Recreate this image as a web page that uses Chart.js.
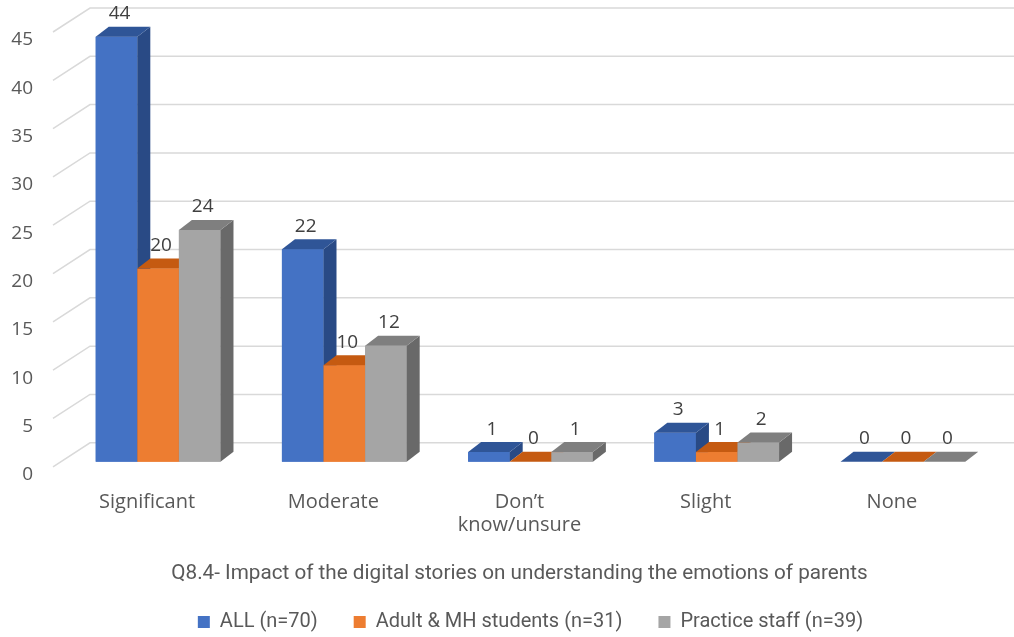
<!DOCTYPE html>
<html>
<head>
<meta charset="utf-8">
<script src="https://cdn.jsdelivr.net/npm/chart.js@4.4.1/dist/chart.umd.min.js"></script>
<style>
  html, body { margin: 0; padding: 0; background: #ffffff; }
  #wrap { width: 1014px; height: 637px; position: relative; }
</style>
</head>
<body>
<div id="wrap"><canvas id="chart" width="1014" height="637"></canvas></div>
<script>
// Response categories and counts per respondent group
const categories = ['Significant', 'Moderate', ['Don\u2019t', 'know/unsure'], 'Slight', 'None'];
const allValues = [44, 22, 1, 3, 0];
const adultMhValues = [20, 10, 0, 1, 0];
const practiceStaffValues = [24, 12, 1, 2, 0];
const seriesNames = ['ALL (n=70)', 'Adult & MH students (n=31)', 'Practice staff (n=39)'];
const yTickValues = [0, 5, 10, 15, 20, 25, 30, 35, 40, 45];
const chartTitle = 'Q8.4- Impact of the digital stories on understanding the emotions of parents';

// Face colours for the extruded bars: front, top, side
const palettes = [
  { front: '#4472c4', top: '#2f5597', side: '#294a85' },
  { front: '#ed7d31', top: '#c55a11', side: '#b05219' },
  { front: '#a5a5a5', top: '#7f7f7f', side: '#696969' }
];

const DEPTH_X = 13, DEPTH_Y = 10;
const TICK_FONT = '"Open Sans", "DejaVu Sans", sans-serif';
const TEXT_FONT = 'Roboto, "Open Sans", sans-serif';

// Let the value-axis labels use the margin to the left of the axis box
const widenValueAxis = {
  id: 'widenValueAxis',
  afterLayout(chart) { chart.scales.y.left = 0; }
};

// Back wall grid with a short receding floor edge on the left
const wallGrid = {
  id: 'wallGrid',
  beforeDatasetsDraw(chart) {
    const ctx = chart.ctx;
    const ys = chart.scales.y;
    ctx.save();
    ctx.strokeStyle = '#d9d9d9';
    ctx.lineWidth = 1.5;
    yTickValues.forEach(v => {
      const yf = ys.getPixelForValue(v);
      ctx.beginPath();
      ctx.moveTo(53, yf + 5);
      ctx.lineTo(90, yf - 19);
      ctx.lineTo(chart.width, yf - 19);
      ctx.stroke();
    });
    ctx.restore();
  }
};

// Draws each bar as a box (front, side, top) plus its value above it
const boxBars = {
  id: 'boxBars',
  afterDatasetsDraw(chart) {
    const ctx = chart.ctx;
    const n = chart.data.labels.length;
    const labelsToDraw = [];
    ctx.save();
    for (let i = 0; i < n; i++) {
      chart.data.datasets.forEach((ds, d) => {
        const el = chart.getDatasetMeta(d).data[i];
        const p = el.getProps(['x', 'y', 'base', 'width'], true);
        const x0 = p.x - p.width / 2, x1 = p.x + p.width / 2;
        const yTop = p.y, yBase = p.base;
        const c = palettes[d];
        // front
        ctx.fillStyle = c.front;
        ctx.fillRect(x0, yTop, x1 - x0, yBase - yTop);
        // side
        ctx.fillStyle = c.side;
        ctx.beginPath();
        ctx.moveTo(x1, yTop);
        ctx.lineTo(x1 + DEPTH_X, yTop - DEPTH_Y);
        ctx.lineTo(x1 + DEPTH_X, yBase - DEPTH_Y);
        ctx.lineTo(x1, yBase);
        ctx.closePath();
        ctx.fill();
        // top
        ctx.fillStyle = c.top;
        ctx.beginPath();
        ctx.moveTo(x0, yTop);
        ctx.lineTo(x0 + DEPTH_X, yTop - DEPTH_Y);
        ctx.lineTo(x1 + DEPTH_X, yTop - DEPTH_Y);
        ctx.lineTo(x1, yTop);
        ctx.closePath();
        ctx.fill();
        labelsToDraw.push({ x: p.x + 3, y: yTop - DEPTH_Y - 13, text: String(ds.data[i]) });
      });
    }
    ctx.fillStyle = '#404040';
    ctx.font = '19px ' + TICK_FONT;
    ctx.textAlign = 'center';
    ctx.textBaseline = 'middle';
    labelsToDraw.forEach(l => ctx.fillText(l.text, l.x, l.y));
    ctx.restore();
  }
};

new Chart(document.getElementById('chart'), {
  type: 'bar',
  data: {
    labels: categories,
    datasets: [
      { label: seriesNames[0], data: allValues, backgroundColor: palettes[0].front },
      { label: seriesNames[1], data: adultMhValues, backgroundColor: palettes[1].front },
      { label: seriesNames[2], data: practiceStaffValues, backgroundColor: palettes[2].front }
    ]
  },
  options: {
    responsive: false,
    animation: false,
    events: [],
    layout: { padding: { left: 43, right: 18, top: 27, bottom: -5 } },
    datasets: { bar: { categoryPercentage: 0.67, barPercentage: 1.0 } },
    scales: {
      x: {
        afterFit(scale) {
          scale.height = 98;
          scale.paddingLeft = 0;
          scale.paddingRight = 0;
        },
        grid: { display: false, drawTicks: false },
        border: { display: false },
        ticks: {
          color: '#595959',
          font: { family: TICK_FONT, size: 20, lineHeight: '23px' },
          padding: 29,
          labelOffset: -11,
          maxRotation: 0,
          autoSkip: false
        }
      },
      y: {
        min: 0,
        max: 45,
        afterBuildTicks(scale) { scale.ticks = yTickValues.map(v => ({ value: v })); },
        afterFit(scale) {
          scale.width = 22;
          scale.paddingTop = 0;
          scale.paddingBottom = 0;
        },
        grid: { display: false, drawTicks: false },
        border: { display: false },
        ticks: {
          color: '#595959',
          font: { family: TICK_FONT, size: 19 },
          padding: 32,
          labelOffset: 13
        }
      }
    },
    plugins: {
      title: {
        display: true,
        text: chartTitle,
        position: 'bottom',
        weight: 500,
        color: '#595959',
        font: { family: TEXT_FONT, size: 20.7, weight: 'normal', lineHeight: 1.2 },
        padding: { top: 2, bottom: -10.6 }
      },
      legend: {
        position: 'bottom',
        fullSize: false,
        labels: {
          color: '#595959',
          font: { family: TEXT_FONT, size: 20 },
          boxWidth: 12,
          boxHeight: 12,
          padding: 36
        }
      },
      tooltip: { enabled: false }
    }
  },
  plugins: [widenValueAxis, wallGrid, boxBars]
});
</script>
</body>
</html>
